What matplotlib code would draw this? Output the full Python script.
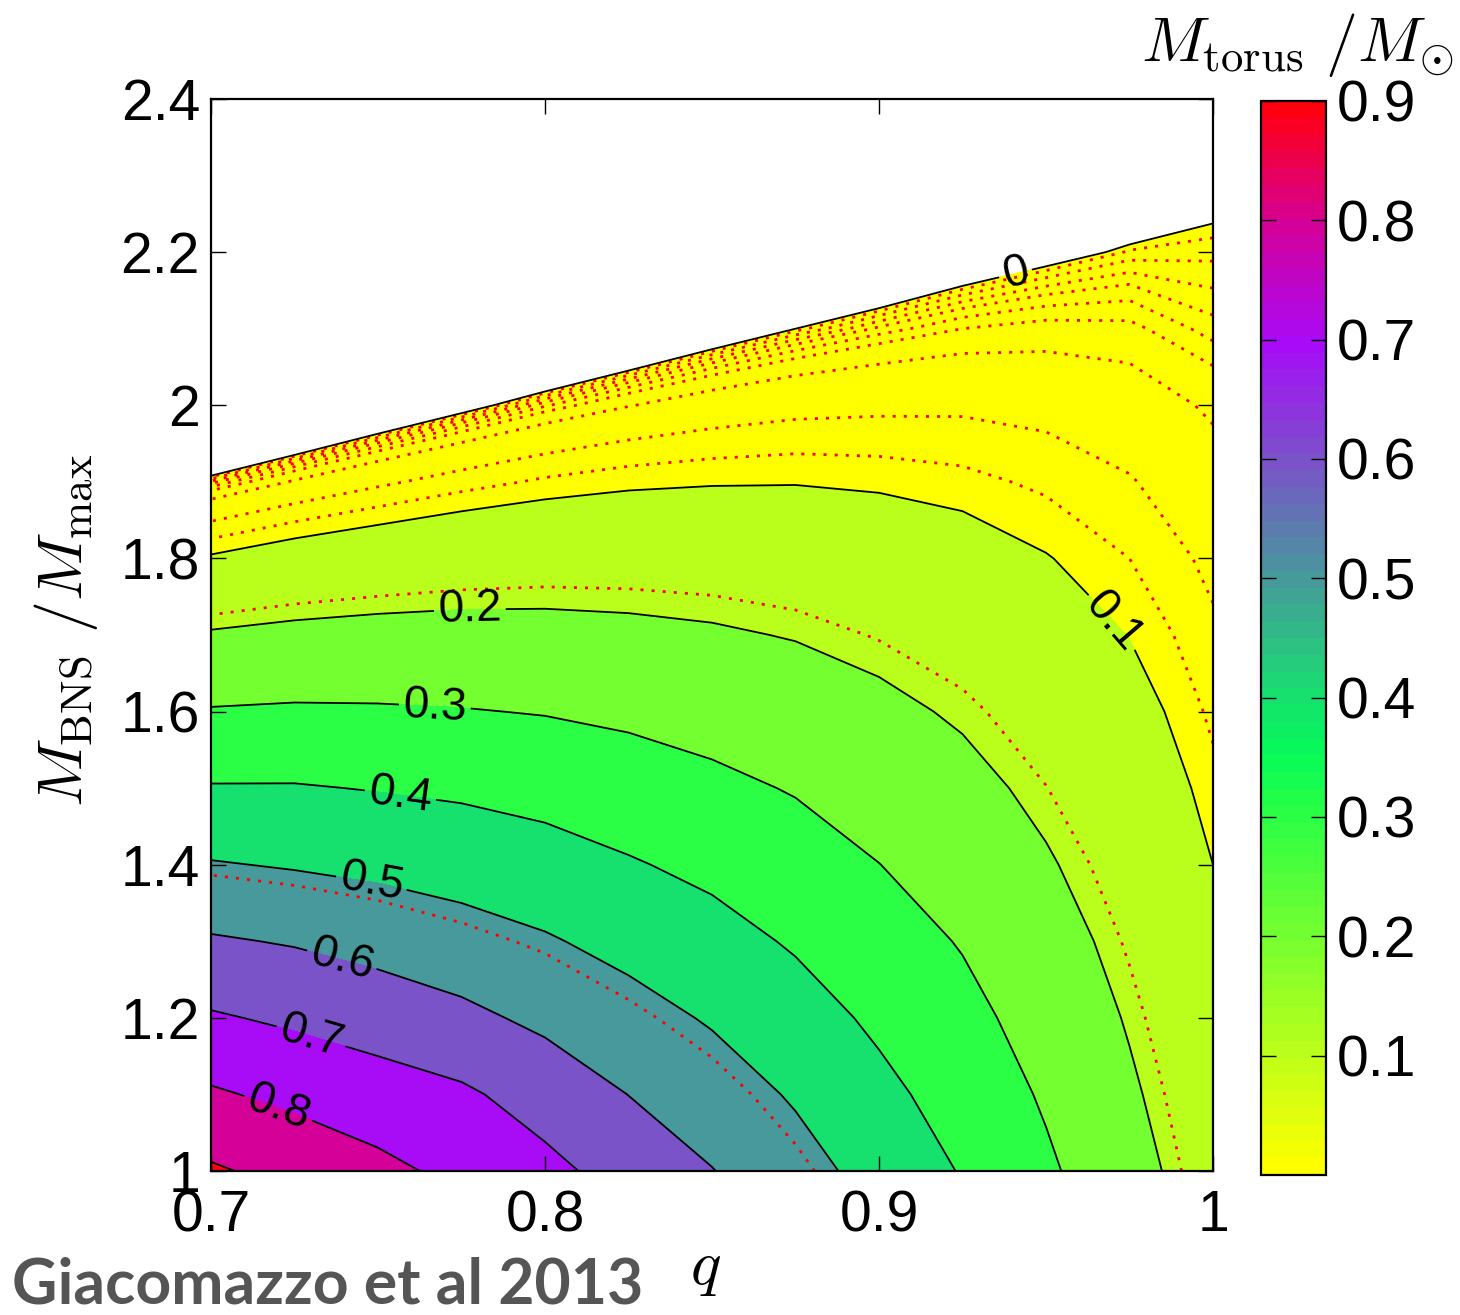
import numpy as np
import matplotlib
matplotlib.use("Agg")
import matplotlib.pyplot as plt
from matplotlib.colors import LinearSegmentedColormap, Normalize
from matplotlib.cm import ScalarMappable

# ---------------- data ----------------
q_values = [0.700, 0.725, 0.750, 0.775, 0.800, 0.825, 0.850,
            0.875, 0.900, 0.925, 0.950, 0.975, 1.000]
mbns_values = [1.0, 1.1, 1.2, 1.3, 1.4, 1.5, 1.6, 1.7,
               1.8, 1.9, 2.0, 2.1, 2.2, 2.3, 2.4]
# torus mass (M_sun); rows follow mbns_values, columns follow q_values
torus_mass = [
    [0.912, 0.870, 0.825, 0.775, 0.724, 0.664, 0.603, 0.536, 0.466, 0.394, 0.315, 0.233, 0.148],
    [0.812, 0.777, 0.743, 0.715, 0.661, 0.599, 0.547, 0.490, 0.424, 0.361, 0.289, 0.212, 0.136],
    [0.710, 0.684, 0.657, 0.623, 0.579, 0.535, 0.491, 0.440, 0.383, 0.327, 0.262, 0.193, 0.124],
    [0.610, 0.593, 0.567, 0.539, 0.509, 0.472, 0.434, 0.390, 0.342, 0.294, 0.235, 0.174, 0.112],
    [0.506, 0.493, 0.479, 0.461, 0.439, 0.408, 0.378, 0.342, 0.301, 0.259, 0.208, 0.155, 0.100],
    [0.406, 0.406, 0.396, 0.385, 0.368, 0.345, 0.321, 0.294, 0.260, 0.224, 0.181, 0.137, 0.087],
    [0.306, 0.311, 0.309, 0.304, 0.296, 0.283, 0.265, 0.245, 0.219, 0.190, 0.155, 0.118, 0.075],
    [0.207, 0.218, 0.224, 0.226, 0.224, 0.218, 0.209, 0.196, 0.177, 0.156, 0.128, 0.099, 0.063],
    [0.105, 0.124, 0.137, 0.148, 0.154, 0.155, 0.153, 0.147, 0.136, 0.121, 0.102, 0.080, 0.051],
    [0.008, 0.032, 0.0525, 0.070, 0.084, 0.093, 0.097, 0.098, 0.094, 0.087, 0.075, 0.060, 0.039],
    [-0.092, -0.059, -0.031, -0.008, 0.013, 0.029, 0.041, 0.049, 0.052, 0.053, 0.049, 0.041, 0.027],
    [-0.190, -0.150, -0.114, -0.086, -0.059, -0.035, -0.015, 0.000, 0.011, 0.019, 0.022, 0.021, 0.0115],
    [-0.290, -0.240, -0.197, -0.164, -0.130, -0.100, -0.072, -0.049, -0.030, -0.015, -0.005, 0.002, 0.003],
    [-0.390, -0.330, -0.280, -0.240, -0.200, -0.160, -0.130, -0.098, -0.071, -0.050, -0.031, -0.018, -0.005],
    [-0.490, -0.420, -0.360, -0.320, -0.270, -0.230, -0.190, -0.150, -0.113, -0.084, -0.058, -0.037, -0.013],
]

fill_levels = [0.0, 0.1, 0.2, 0.3, 0.4, 0.5, 0.6, 0.7, 0.8, 0.9, 1.0]
line_levels = [0.0, 0.1, 0.2, 0.3, 0.4, 0.5, 0.6, 0.7, 0.8, 0.9]
label_levels = [0.0, 0.1, 0.2, 0.3, 0.4, 0.5, 0.6, 0.7, 0.8]
dotted_levels = [0.0015, 0.004, 0.007, 0.010, 0.014, 0.019, 0.030,
                 0.058, 0.080, 0.180, 0.520]

cbar_ticks = [0.1, 0.2, 0.3, 0.4, 0.5, 0.6, 0.7, 0.8, 0.9]
cbar_tick_labels = ["0.1", "0.2", "0.3", "0.4", "0.5", "0.6", "0.7", "0.8", "0.9"]
x_ticks = [0.7, 0.8, 0.9, 1.0]
x_tick_labels = ["0.7", "0.8", "0.9", "1"]
y_ticks = [1.0, 1.2, 1.4, 1.6, 1.8, 2.0, 2.2, 2.4]
y_tick_labels = ["1", "1.2", "1.4", "1.6", "1.8", "2", "2.2", "2.4"]

# colormap stops (value, colour)
cmap_values = [0.0, 0.1, 0.2, 0.3, 0.35, 0.4, 0.5, 0.6, 0.7, 0.8, 0.9]
cmap_colors = ["#ffff00", "#b9ff1b", "#72ff31", "#2bff45", "#05fb58", "#17e06f",
               "#479a9a", "#7a53c9", "#a70bf8", "#d3009a", "#ff0010"]

# label placement hints (data coordinates)
label_positions = [(0.941, 2.17), (0.969, 1.713), (0.7775, 1.730), (0.767, 1.606),
                   (0.7566, 1.488), (0.748, 1.375), (0.739, 1.273), (0.7296, 1.171),
                   (0.720, 1.080)]

# ---------------- figure ----------------
plt.rcParams["font.family"] = ["Liberation Sans", "DejaVu Sans"]
plt.rcParams["mathtext.fontset"] = "cm"

W, H = 1460, 1315
fig = plt.figure(figsize=(W / 100, H / 100), dpi=100)
ax = fig.add_axes([211 / W, 1 - 1171 / H, (1213 - 211) / W, (1171 - 99) / H])
cax = fig.add_axes([1261 / W, 1 - 1175 / H, (1326 - 1261) / W, (1175 - 101) / H])

vmax = 0.9
cmap = LinearSegmentedColormap.from_list(
    "torus", [(v / vmax, c) for v, c in zip(cmap_values, cmap_colors)], N=64)
smooth_cmap = LinearSegmentedColormap.from_list(
    "torus_s", [(v / vmax, c) for v, c in zip(cmap_values, cmap_colors)], N=256)

Q, MB = np.meshgrid(np.array(q_values), np.array(mbns_values))
Z = np.array(torus_mass)

fill_colors = [smooth_cmap(min(l / vmax, 1.0)) for l in fill_levels[:-1]]
ax.contourf(Q, MB, Z, levels=fill_levels, colors=fill_colors)
ax.contour(Q, MB, Z, levels=dotted_levels, colors="#ff0000",
           linewidths=2.0, linestyles=[(0, (1.1, 2.9))])
cs = ax.contour(Q, MB, Z, levels=line_levels, colors="black", linewidths=1.3)

def fmt(v):
    return "0" if abs(v) < 1e-9 else f"{v:.1f}"

texts = ax.clabel(cs, levels=label_levels, inline=True, fontsize=33, fmt=fmt,
                  manual=label_positions, inline_spacing=4)
for t in texts:
    t.set_fontfamily(["Liberation Sans", "DejaVu Sans"])

ax.set_xlim(0.7, 1.0)
ax.set_ylim(1.0, 2.4)
ax.set_xticks(x_ticks)
ax.set_xticklabels(x_tick_labels)
ax.set_yticks(y_ticks)
ax.set_yticklabels(y_tick_labels)
ax.tick_params(direction="in", length=11, width=1.0, top=True, right=True,
               labelsize=41, color="black")
ax.tick_params(axis="x", pad=13)
ax.tick_params(axis="y", pad=8)
for s in ax.spines.values():
    s.set_linewidth(1.6)

ax.set_xlabel(r"$q$", fontsize=46)
ax.xaxis.set_label_coords((705 - 211) / 1002, (1171 - 1238) / 1072)
ax.set_ylabel(r"$M_{\rm BNS}\ /M_{\rm max}$", fontsize=46)
ax.yaxis.set_label_coords((100 - 211) / 1002, (1171 - 630) / 1072)

# colorbar
sm = ScalarMappable(norm=Normalize(0, vmax), cmap=cmap)
cb = fig.colorbar(sm, cax=cax, ticks=cbar_ticks)
cb.set_ticklabels(cbar_tick_labels)
cax.yaxis.set_ticks_position("both")
cax.yaxis.set_label_position("right")
cax.tick_params(direction="in", length=11, width=1.0, labelsize=41,
                left=True, right=True, labelleft=False, labelright=True, pad=8)
cb.outline.set_linewidth(1.6)

fig.text(1297 / W, 1 - 45 / H, r"$M_{\rm torus}\ /M_{\odot}$", fontsize=46,
         ha="center", va="center")
fig.text(12 / W, 1 - 1303 / H, "Giacomazzo et al 2013", fontsize=45,
         fontfamily=["Lato", "DejaVu Sans"], fontweight="bold", color="#555555",
         ha="left", va="baseline")

fig.savefig("out.png", dpi=100)
